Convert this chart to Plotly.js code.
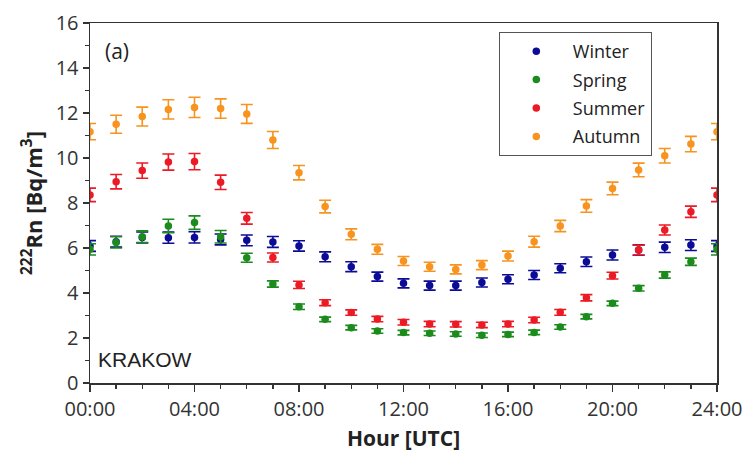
<!DOCTYPE html>
<html>
<head>
<meta charset="utf-8">
<script src="https://cdn.plot.ly/plotly-3.0.1.min.js"></script>
<style>html,body{margin:0;padding:0;background:#fff}#chart{width:744px;height:452px}</style>
</head>
<body>
<div id="chart"></div>
<script>
const hours = [0,1,2,3,4,5,6,7,8,9,10,11,12,13,14,15,16,17,18,19,20,21,22,23,24];
const tickVals = [0,4,8,12,16,20,24];
const tickText = ["00:00","04:00","08:00","12:00","16:00","20:00","24:00"];

const winter = [6.09,6.28,6.47,6.46,6.47,6.38,6.34,6.27,6.09,5.61,5.17,4.73,4.43,4.33,4.33,4.47,4.61,4.80,5.10,5.39,5.69,5.91,6.03,6.13,6.09];
const winterErr = [0.24,0.24,0.24,0.25,0.25,0.24,0.24,0.24,0.23,0.22,0.22,0.2,0.2,0.2,0.2,0.2,0.2,0.2,0.2,0.21,0.22,0.23,0.23,0.24,0.24];

const spring = [5.94,6.25,6.50,6.98,7.13,6.50,5.57,4.40,3.39,2.83,2.46,2.31,2.24,2.21,2.18,2.12,2.16,2.25,2.49,2.95,3.54,4.21,4.80,5.39,5.94];
const springErr = [0.25,0.25,0.26,0.3,0.3,0.28,0.2,0.14,0.12,0.1,0.1,0.1,0.1,0.1,0.1,0.1,0.1,0.1,0.1,0.1,0.1,0.12,0.14,0.16,0.25];

const summer = [8.36,8.95,9.44,9.82,9.84,8.92,7.32,5.58,4.36,3.57,3.13,2.84,2.70,2.62,2.61,2.58,2.62,2.80,3.14,3.79,4.77,5.91,6.80,7.61,8.36];
const summerErr = [0.3,0.32,0.34,0.36,0.36,0.32,0.26,0.2,0.16,0.13,0.12,0.12,0.12,0.12,0.12,0.12,0.12,0.12,0.13,0.14,0.15,0.22,0.22,0.25,0.3];

const autumn = [11.17,11.50,11.84,12.16,12.25,12.20,11.96,10.80,9.35,7.84,6.61,5.94,5.42,5.17,5.05,5.24,5.64,6.28,6.98,7.87,8.65,9.47,10.10,10.62,11.17];
const autumnErr = [0.36,0.4,0.42,0.43,0.45,0.43,0.42,0.38,0.32,0.28,0.24,0.22,0.2,0.2,0.2,0.2,0.22,0.24,0.25,0.28,0.28,0.3,0.32,0.34,0.36];

const seriesNames = ["Winter","Spring","Summer","Autumn"];
const seriesColors = ["#0b0b96","#1b8c1b","#ec1a24","#f7931e"];
const seriesVals = [winter, spring, summer, autumn];
const seriesErrs = [winterErr, springErr, summerErr, autumnErr];

const FONT = "Open Sans, Noto Sans, sans-serif";
const AX = "#333";

const traces = seriesNames.map((n, i) => ({
  type: "scatter",
  mode: "markers",
  name: n,
  legendgroup: n,
  x: hours,
  y: seriesVals[i],
  marker: {color: seriesColors[i], size: 7.5},
  error_y: {type: "data", array: seriesErrs[i], visible: true, color: seriesColors[i], thickness: 1.6, width: 6}
}));

const minorX = {tickmode: "linear", tick0: 0, dtick: 1, ticklen: 4, tickwidth: 1.3, tickcolor: AX};
const minorY = {tickmode: "linear", tick0: 0, dtick: 1, ticklen: 4, tickwidth: 1.3, tickcolor: AX};

const layout = {
  width: 744, height: 452,
  margin: {l: 90, r: 27, t: 23, b: 69},
  paper_bgcolor: "#fff", plot_bgcolor: "#fff",
  font: {family: FONT, color: "#222"},
  showlegend: true,
  legend: {
    x: 0.652, y: 0.975, xanchor: "left", yanchor: "top",
    bgcolor: "#fff", bordercolor: "#555", borderwidth: 1,
    font: {family: FONT, size: 18, color: "#222"},
    itemwidth: 63, tracegroupgap: 2
  },
  xaxis: {
    range: [0, 24], showline: true, linecolor: AX, linewidth: 1.5, mirror: true,
    ticks: "outside", ticklen: 7, tickwidth: 1.5, tickcolor: AX,
    showgrid: false, zeroline: false,
    tickmode: "array", tickvals: tickVals, ticktext: tickText,
    tickfont: {family: FONT, size: 20, color: AX},
    minor: Object.assign({ticks: "outside"}, minorX),
    title: {text: "<b>Hour [UTC]</b>", font: {family: FONT, size: 21, color: "#222"}, standoff: 11}
  },
  xaxis2: {
    overlaying: "x", side: "top", matches: "x", range: [0, 24],
    showline: false, showgrid: false, zeroline: false, showticklabels: false,
    ticks: "inside", ticklen: 7, tickwidth: 1.5, tickcolor: AX,
    tickmode: "array", tickvals: tickVals,
    minor: Object.assign({ticks: "inside"}, minorX)
  },
  yaxis: {
    range: [0, 16], showline: true, linecolor: AX, linewidth: 1.5, mirror: true,
    ticks: "outside", ticklen: 6, tickwidth: 1.5, tickcolor: AX,
    showgrid: false, zeroline: false,
    tickmode: "linear", tick0: 0, dtick: 2,
    tickfont: {family: FONT, size: 20, color: AX},
    minor: Object.assign({ticks: "outside"}, minorY),
    title: {text: "<b><sup>222</sup>Rn [Bq/m<sup>3</sup>]</b>", font: {family: FONT, size: 22, color: "#222"}, standoff: 7}
  },
  yaxis2: {
    overlaying: "y", side: "right", matches: "y", range: [0, 16],
    showline: false, showgrid: false, zeroline: false, showticklabels: false,
    ticks: "inside", ticklen: 6, tickwidth: 1.5, tickcolor: AX,
    tickmode: "linear", tick0: 0, dtick: 2,
    minor: Object.assign({ticks: "inside"}, minorY)
  },
  annotations: [
    {text: "(a)", xref: "paper", yref: "paper", x: 0.02, y: 0.922, xanchor: "left", yanchor: "middle", showarrow: false, font: {family: FONT, size: 21, color: "#222"}},
    {text: "KRAKOW", xref: "paper", yref: "paper", x: 0.01, y: 0.064, xanchor: "left", yanchor: "middle", showarrow: false, font: {family: "Liberation Sans, Arial, sans-serif", size: 21, color: "#222"}}
  ]
};

Plotly.newPlot("chart", traces, layout, {displayModeBar: false, staticPlot: true});
</script>
</body>
</html>
